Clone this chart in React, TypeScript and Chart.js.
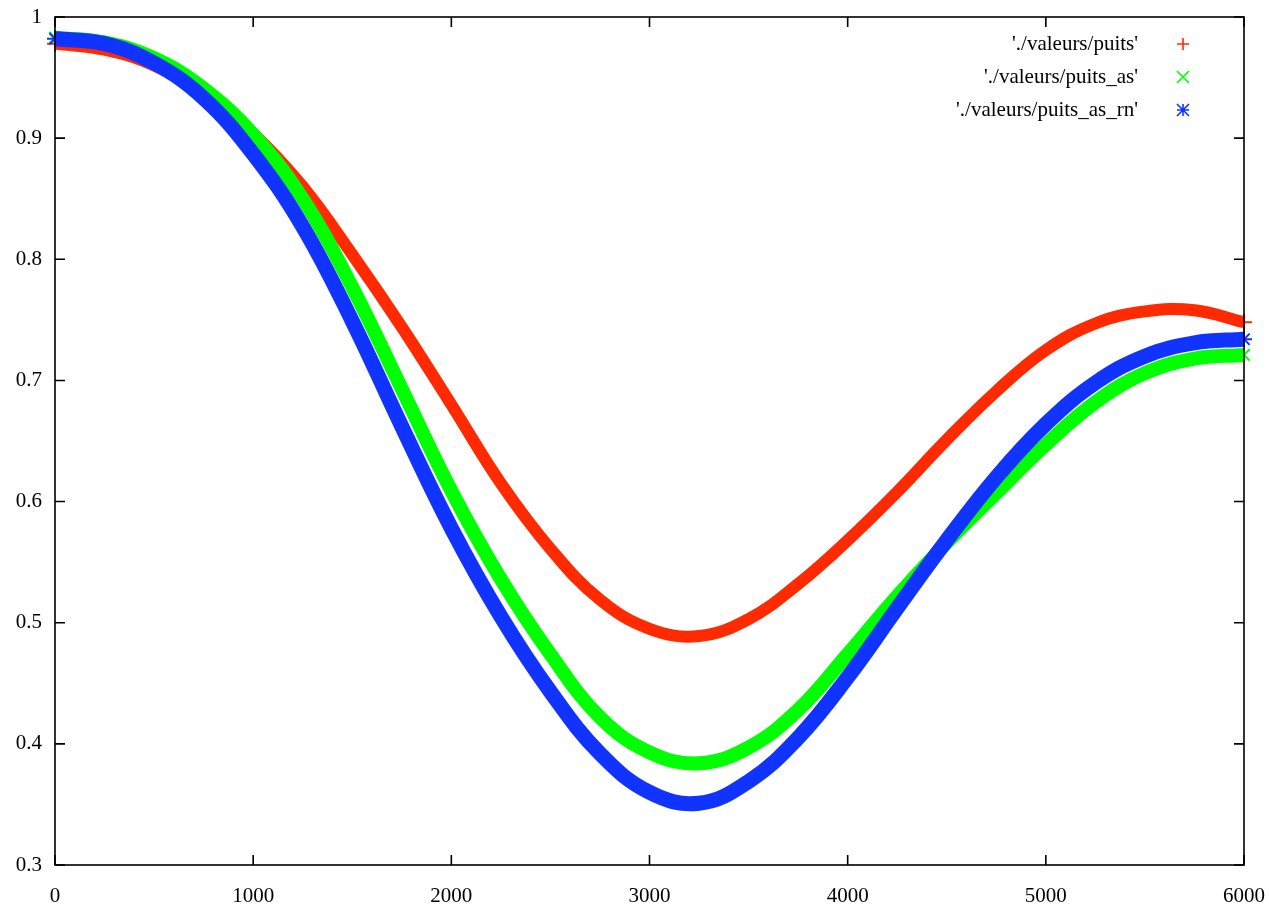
import React, { useEffect, useRef } from "react";
import { Chart, registerables } from "chart.js";

Chart.register(...registerables);

const xValues = [0, 250, 500, 750, 1000, 1250, 1500, 1750, 2000, 2250, 2500, 2750, 3000, 3250, 3500, 3750, 4000, 4250, 4500, 4750, 5000, 5250, 5500, 5750, 6000];

const puits = [0.978, 0.973, 0.96, 0.937, 0.904, 0.86, 0.804, 0.744, 0.68, 0.615, 0.561, 0.519, 0.495, 0.489, 0.503, 0.532, 0.568, 0.608, 0.651, 0.691, 0.725, 0.747, 0.757, 0.758, 0.748];
const puitsAs = [0.983, 0.979, 0.966, 0.941, 0.903, 0.85, 0.777, 0.693, 0.609, 0.536, 0.474, 0.422, 0.393, 0.384, 0.397, 0.428, 0.474, 0.522, 0.566, 0.607, 0.647, 0.682, 0.706, 0.718, 0.721];
const puitsAsRn = [0.982, 0.978, 0.962, 0.933, 0.887, 0.827, 0.749, 0.662, 0.578, 0.505, 0.443, 0.392, 0.36, 0.351, 0.369, 0.405, 0.455, 0.512, 0.568, 0.62, 0.664, 0.698, 0.72, 0.731, 0.734];

const seriesLabels = ["'./valeurs/puits'", "'./valeurs/puits_as'", "'./valeurs/puits_as_rn'"];
const seriesColors = ["#ff2a00", "#00ff00", "#1133ff"];
const seriesMarkers = ["cross", "crossRot", "star"];

const xTicks = [0, 1000, 2000, 3000, 4000, 5000, 6000];
const yTicks = [0.3, 0.4, 0.5, 0.6, 0.7, 0.8, 0.9, 1];
const xTickLabels = ["0", "1000", "2000", "3000", "4000", "5000", "6000"];
const yTickLabels = ["0.3", "0.4", "0.5", "0.6", "0.7", "0.8", "0.9", "1"];

const FONT = "'Liberation Serif', 'DejaVu Serif', serif";

const framePlugin = {
  id: "frame",
  afterDraw(chart: any) {
    const { ctx, chartArea } = chart;
    const { left, right, top, bottom } = chartArea;
    const xs = chart.scales.x;
    const ys = chart.scales.y;
    ctx.save();
    ctx.strokeStyle = "#000";
    ctx.lineWidth = 1.6;
    ctx.strokeRect(left, top, right - left, bottom - top);
    const tl = 10;
    ctx.beginPath();
    xTicks.forEach((v) => {
      const px = xs.getPixelForValue(v);
      ctx.moveTo(px, bottom);
      ctx.lineTo(px, bottom - tl);
      ctx.moveTo(px, top);
      ctx.lineTo(px, top + tl);
    });
    yTicks.forEach((v) => {
      const py = ys.getPixelForValue(v);
      ctx.moveTo(left, py);
      ctx.lineTo(left + tl, py);
      ctx.moveTo(right, py);
      ctx.lineTo(right - tl, py);
    });
    ctx.stroke();

    // tick labels
    ctx.fillStyle = "#000";
    ctx.font = `21px ${FONT}`;
    ctx.textBaseline = "middle";
    ctx.textAlign = "center";
    xTicks.forEach((v, i) => {
      ctx.fillText(xTickLabels[i], xs.getPixelForValue(v), bottom + 31);
    });
    ctx.textAlign = "right";
    yTicks.forEach((v, i) => {
      ctx.fillText(yTickLabels[i], left - 13, ys.getPixelForValue(v));
    });

    // legend
    const rowY = [44, 77, 110];
    const textRight = 1138;
    const mx = 1183;
    const ms = 6;
    seriesLabels.forEach((lab, i) => {
      const y = rowY[i];
      ctx.fillStyle = "#000";
      ctx.fillText(lab, textRight, y);
      ctx.strokeStyle = seriesColors[i];
      ctx.lineWidth = 1.6;
      ctx.beginPath();
      if (i === 0 || i === 2) {
        ctx.moveTo(mx - ms, y);
        ctx.lineTo(mx + ms, y);
        ctx.moveTo(mx, y - ms);
        ctx.lineTo(mx, y + ms);
      }
      if (i === 1 || i === 2) {
        ctx.moveTo(mx - ms, y - ms);
        ctx.lineTo(mx + ms, y + ms);
        ctx.moveTo(mx - ms, y + ms);
        ctx.lineTo(mx + ms, y - ms);
      }
      ctx.stroke();
    });
    ctx.restore();
  },
};

export default function App() {
  const canvasRef = useRef<HTMLCanvasElement>(null);

  useEffect(() => {
    document.body.style.margin = "0";
    const canvas = canvasRef.current;
    if (!canvas) return;
    const allSeries = [puits, puitsAs, puitsAsRn];
    const widths = [12, 14, 15];
    const last = xValues.length - 1;
    const chart = new Chart(canvas, {
      type: "line",
      data: {
        datasets: allSeries.map((vals, i) => ({
          label: seriesLabels[i],
          data: xValues.map((x, j) => ({ x, y: vals[j] })),
          borderColor: seriesColors[i],
          backgroundColor: seriesColors[i],
          borderWidth: widths[i],
          borderCapStyle: "butt",
          borderJoinStyle: "round",
          tension: 0.4,
          pointStyle: seriesMarkers[i],
          pointRadius: (c: any) => (c.dataIndex === 0 || c.dataIndex === last ? 8 : 0),
          pointBorderWidth: 2,
          pointBorderColor: seriesColors[i],
          order: 3 - i,
          clip: false,
        })) as any,
      },
      options: {
        responsive: false,
        animation: false,
        devicePixelRatio: 1,
        layout: { padding: { top: 17, right: 25, left: 0, bottom: 0 } },
        plugins: { legend: { display: false }, tooltip: { enabled: false } },
        scales: {
          x: {
            type: "linear",
            min: 0,
            max: 6000,
            grid: { display: false, drawTicks: false },
            border: { display: false },
            ticks: { display: false },
            afterFit: (s: any) => {
              s.height = 44;
            },
          },
          y: {
            type: "linear",
            min: 0.3,
            max: 1,
            grid: { display: false, drawTicks: false },
            border: { display: false },
            ticks: { display: false },
            afterFit: (s: any) => {
              s.width = 55;
            },
          },
        },
      },
      plugins: [framePlugin],
    });
    return () => chart.destroy();
  }, []);

  return (
    <div style={{ position: "fixed", left: 0, top: 0, width: 1269, height: 909, background: "#fff" }}>
      <canvas ref={canvasRef} width={1269} height={909} style={{ display: "block" }} />
    </div>
  );
}
